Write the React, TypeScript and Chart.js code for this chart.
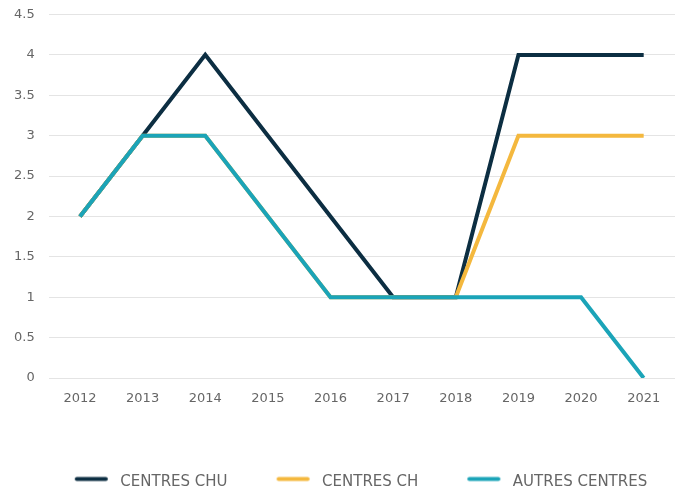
import React, { useEffect, useRef } from "react";
import { Chart, registerables } from "chart.js";

Chart.register(...registerables);

const years = ["2012", "2013", "2014", "2015", "2016", "2017", "2018", "2019", "2020", "2021"];
const centresChu = [2, 3, 4, 3, 2, 1, 1, 4, 4, 4];
const centresCh = [2, 3, 3, 2, 1, 1, 1, 3, 3, 3];
const autresCentres = [2, 3, 3, 2, 1, 1, 1, 1, 1, 0];

const seriesNames = ["CENTRES CHU", "CENTRES CH", "AUTRES CENTRES"];
const seriesColors = ["#0c2e42", "#f4b83e", "#1ba4b8"];

const FONT = "'DejaVu Sans', sans-serif";

function makeMarker(color: string): HTMLCanvasElement {
  const c = document.createElement("canvas");
  c.width = 77;
  c.height = 14;
  const ctx = c.getContext("2d")!;
  ctx.strokeStyle = color;
  ctx.lineWidth = 4;
  ctx.lineCap = "round";
  ctx.beginPath();
  ctx.moveTo(41, 3.5);
  ctx.lineTo(70, 3.5);
  ctx.stroke();
  return c;
}

export default function App() {
  const ref = useRef<HTMLCanvasElement | null>(null);
  useEffect(() => {
    document.body.style.margin = "0";
    const markers = seriesColors.map(makeMarker);
    const legendPatch = {
      id: "legendPatch",
      beforeLayout(chart: any) {
        const lg = chart.legend;
        if (lg && !lg._patched) {
          const origFit = lg.fit.bind(lg);
          lg.fit = function () {
            origFit();
            this.height = 25;
          };
          const origDraw = lg.draw.bind(lg);
          lg.draw = function (...args: any[]) {
            const ctx = chart.ctx;
            ctx.save();
            ctx.translate(4, 0);
            origDraw(...args);
            ctx.restore();
          };
          lg._patched = true;
        }
      },
    };
    const chart = new Chart(ref.current!, {
      type: "line",
      data: {
        labels: years,
        datasets: [
          { label: seriesNames[0], data: centresChu, borderColor: seriesColors[0], backgroundColor: seriesColors[0], order: 2 },
          { label: seriesNames[1], data: centresCh, borderColor: seriesColors[1], backgroundColor: seriesColors[1], order: 1 },
          { label: seriesNames[2], data: autresCentres, borderColor: seriesColors[2], backgroundColor: seriesColors[2], order: 0 },
        ],
      },
      options: {
        animation: false,
        responsive: false,
        maintainAspectRatio: false,
        elements: {
          line: { borderWidth: 4, tension: 0, fill: false },
          point: { radius: 0, hoverRadius: 0 },
        },
        layout: { padding: { left: 0, right: 7, top: 0, bottom: 0 } },
        scales: {
          x: {
            offset: true,
            grid: { display: false, drawTicks: false },
            border: { display: false },
            ticks: { padding: 13, color: "#666", font: { family: FONT, size: 13 } },
            afterFit(scale: any) {
              scale.height = 87;
            },
          },
          y: {
            min: 0,
            max: 4.5,
            grid: { color: "#e4e4e4", lineWidth: 1, drawTicks: false },
            border: { display: false },
            ticks: {
              stepSize: 0.5,
              padding: 14,
              color: "#666",
              font: { family: FONT, size: 13 },
              callback: (v: any) => `${Number(v)}`,
            },
            afterFit(scale: any) {
              scale.paddingTop = 14.5;
            },
          },
        },
        plugins: {
          tooltip: { enabled: false },
          legend: {
            position: "bottom",
            labels: {
              usePointStyle: true,
              pointStyleWidth: 77,
              padding: 10,
              color: "#666",
              font: { family: FONT, size: 15 },
              generateLabels: (ch: any) =>
                ch.data.datasets.map((ds: any, i: number) => ({
                  text: ds.label,
                  pointStyle: markers[i],
                  fillStyle: seriesColors[i],
                  strokeStyle: seriesColors[i],
                  lineWidth: 0,
                  hidden: false,
                  datasetIndex: i,
                  fontColor: "#666",
                })),
            },
          },
        },
      },
      plugins: [legendPatch],
    } as any);
    return () => chart.destroy();
  }, []);
  return (
    <div style={{ width: 682, height: 490 }}>
      <canvas ref={ref} width={682} height={490} style={{ display: "block", width: 682, height: 490 }} />
    </div>
  );
}
